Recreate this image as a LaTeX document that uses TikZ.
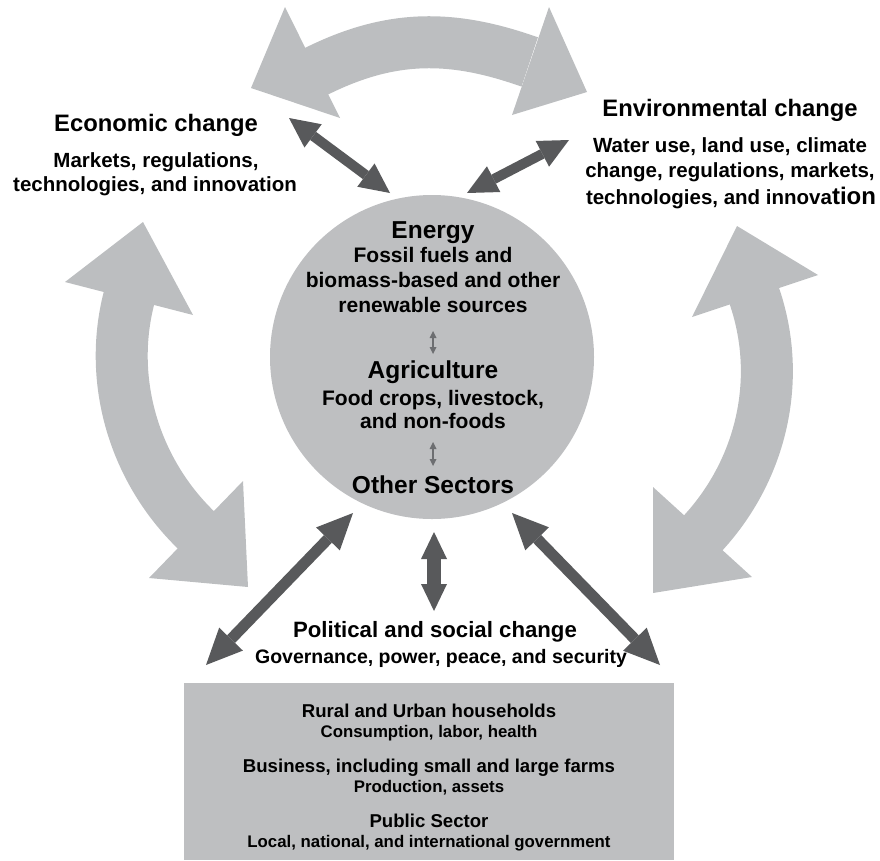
\documentclass[tikz,border=0pt]{standalone}
\usepackage{fontspec}
\setmainfont{Liberation Sans}
\usetikzlibrary{arrows.meta}

\definecolor{arcgray}{HTML}{BCBEC0}
\definecolor{discgray}{HTML}{BEBFC1}
\definecolor{linkdark}{HTML}{58595B}
\definecolor{smalllink}{HTML}{6D6E71}

\tikzset{
  bigshaft/.style={draw=arcgray, line width=52pt, line cap=butt, line join=round},
  bighead/.style={fill=arcgray},
  biglink/.style={draw=linkdark, line width=11pt,
    {Triangle[length=36pt,width=33pt,line width=0pt]}-{Triangle[length=36pt,width=33pt,line width=0pt]}},
  uplink/.style={draw=linkdark, line width=10pt,
    {Triangle[length=30pt,width=29pt,line width=0pt]}-{Triangle[length=30pt,width=29pt,line width=0pt]}},
  midlink/.style={draw=linkdark, line width=14pt,
    {Triangle[length=27pt,width=26pt,line width=0pt]}-{Triangle[length=27pt,width=26pt,line width=0pt]}},
  sectorlink/.style={draw=smalllink, line width=1.6pt,
    {Triangle[length=7pt,width=7pt,line width=0pt]}-{Triangle[length=7pt,width=7pt,line width=0pt]}},
  txt/.style={anchor=base, inner sep=0pt, text=black, font=\bfseries},
  headA/.style={txt, font=\bfseries\fontsize{23.8}{26}\selectfont},
  subA/.style={txt, font=\bfseries\fontsize{20.5}{24}\selectfont},
  sector/.style={txt, font=\bfseries\fontsize{24.5}{28}\selectfont},
  sectorsub/.style={txt, font=\bfseries\fontsize{21}{24}\selectfont},
  polhead/.style={txt, font=\bfseries\fontsize{22.2}{26}\selectfont},
  polsub/.style={txt, font=\bfseries\fontsize{19.5}{22}\selectfont},
  actor/.style={txt, font=\bfseries\fontsize{18.6}{22}\selectfont},
  actorsub/.style={txt, font=\bfseries\fontsize{16.8}{20}\selectfont},
}

\begin{document}
\begin{tikzpicture}[x=1pt, y=-1pt]
\useasboundingbox (0,0) rectangle (880,860);

% ---- large grey feedback arrows ----
% top: economic <-> environmental
\draw[bigshaft] (311.6,73.7) -- (317,71) .. controls (388.7,35.5) and (448.3,34.1) .. (524,60) -- (529.7,61.9);
\fill[bighead] (285,7) -- (340,118) -- (251,88) -- cycle;
\fill[bighead] (549,7) -- (512,115) -- (587,92) -- cycle;
% left: economic <-> political/social
\draw[bigshaft] (130.5,292.2) -- (129,298) .. controls (107.6,381.2) and (134.3,470.1) .. (196,530) -- (200.3,534.2);
\fill[bighead] (65,282) -- (193,315) -- (143,222) -- cycle;
\fill[bighead] (243,481) -- (149,578) -- (248,587) -- cycle;
% right: environmental <-> political/social
\draw[bigshaft] (753.1,292.3) -- (755,298) .. controls (782.1,379.5) and (761.8,468.4) .. (704,532) -- (700,536.4);
\fill[bighead] (692,317) -- (818,275) -- (737,226) -- cycle;
\fill[bighead] (653,487) -- (752,577) -- (653,593) -- cycle;

% ---- central sector disc and actors box ----
\node[circle, fill=discgray, minimum size=324pt, inner sep=0pt] (core) at (432,357) {};
\node[rectangle, fill=discgray, minimum width=490pt, minimum height=177pt, inner sep=0pt, anchor=north west] (actors) at (184,683) {};

% ---- dark interaction arrows ----
\coordinate (econ-end) at (289,118);
\coordinate (core-nw) at (390,193);
\coordinate (env-end) at (569,140);
\coordinate (core-ne) at (467,193);
\coordinate (core-sw) at (353,513);
\coordinate (pol-w) at (206,665);
\coordinate (core-s) at (434,532);
\coordinate (pol-n) at (434,611);
\coordinate (core-se) at (512,513);
\coordinate (pol-e) at (660,665);
\draw[uplink] (econ-end) -- (core-nw);
\draw[uplink] (env-end) -- (core-ne);
\draw[biglink] (core-sw) -- (pol-w);
\draw[midlink] (core-s) -- (pol-n);
\draw[biglink] (core-se) -- (pol-e);

% ---- economic change ----
\node[headA] (econ-title) at (156,131) {Economic change};
\node[subA] (econ-l1) at (156,167) {Markets, regulations,};
\node[subA] (econ-l2) at (155,191) {technologies, and innovation};

% ---- environmental change ----
\node[headA] (env-title) at (730,116) {Environmental change};
\node[subA] (env-l1) at (730,152) {Water use, land use, climate};
\node[subA] (env-l2) at (730,177) {change, regulations, markets,};
\node[subA] (env-l3) at (731,204) {technologies, and innova{\fontsize{24}{26}\selectfont tion}};

% ---- sectors inside the disc ----
\node[sector] (energy) at (433,238) {Energy};
\node[sectorsub] (energy-l1) at (433,262) {Fossil fuels and};
\node[sectorsub] (energy-l2) at (433,287) {biomass-based and other};
\node[sectorsub] (energy-l3) at (433,312) {renewable sources};
\coordinate (ea-top) at (433,331);
\coordinate (ea-bot) at (433,354);
\draw[sectorlink] (ea-top) -- (ea-bot);
\node[sector] (agri) at (433,378) {Agriculture};
\node[sectorsub] (agri-l1) at (433,405) {Food crops, livestock,};
\node[sectorsub] (agri-l2) at (433,428) {and non-foods};
\coordinate (ao-top) at (433,442);
\coordinate (ao-bot) at (433,466);
\draw[sectorlink] (ao-top) -- (ao-bot);
\node[sector] (other) at (433,493) {Other Sectors};

% ---- political and social change ----
\node[polhead] (pol-title) at (435,637) {Political and social change};
\node[polsub] (pol-l1) at (441,663) {Governance, power, peace, and security};

% ---- actors ----
\node[actor] (rural) at (429,717) {Rural and Urban households};
\node[actorsub] (rural-sub) at (429,737) {Consumption, labor, health};
\node[actor] (business) at (429,772) {Business, including small and large farms};
\node[actorsub] (business-sub) at (429,792) {Production, assets};
\node[actor] (public) at (429,827) {Public Sector};
\node[actorsub] (public-sub) at (429,847) {Local, national, and international government};
\end{tikzpicture}
\end{document}
